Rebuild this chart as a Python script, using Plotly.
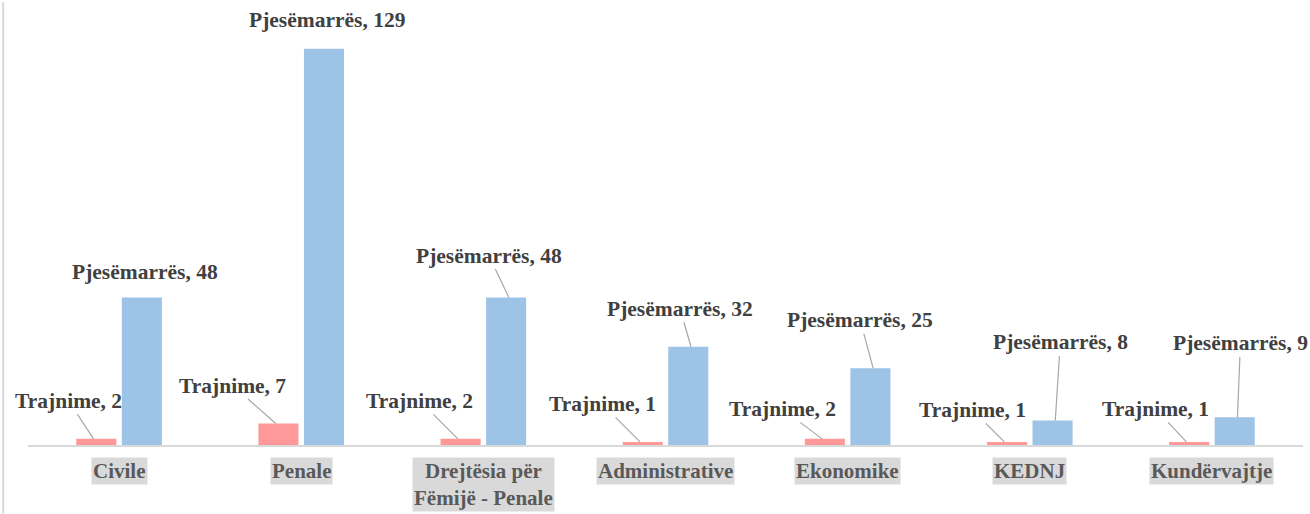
import plotly.graph_objects as go

categories = ["Civile", "Penale", "Drejtësia për<br>Fëmijë - Penale", "Administrative",
              "Ekonomike", "KEDNJ", "Kundërvajtje"]
series_names = ["Trajnime", "Pjesëmarrës"]
trajnime = [2, 7, 2, 1, 2, 1, 1]
pjesemarres = [48, 129, 48, 32, 25, 8, 9]

# label offsets in pixels (text position relative to bar top)
traj_ax = [-25, -43, -38, -38, -40, -32, -31]
traj_ay = [-38, -38, -38, -38, -30, -32, -33]
traj_arrow = [True, True, True, True, True, True, True]
pj_ax = [0, 0, -20, -11, -13, 5, 3]
pj_ay = [-26, -29, -42, -38, -48, -78, -74]
pj_arrow = [False, False, True, True, True, True, True]

FONT = "Liberation Serif, Times New Roman, serif"
pink = "#FF9999"
blue = "#9DC3E6"
x = list(range(len(categories)))

fig = go.Figure()
fig.add_trace(go.Bar(x=x, y=trajnime, name=series_names[0], marker_color=pink,
                     marker_line_width=0))
fig.add_trace(go.Bar(x=x, y=pjesemarres, name=series_names[1], marker_color=blue,
                     marker_line_width=0))

off = 0.14
annotations = []
for i in x:
    for vals, axs, ays, arr, name, dx in [
        (trajnime, traj_ax, traj_ay, traj_arrow, series_names[0], -off),
        (pjesemarres, pj_ax, pj_ay, pj_arrow, series_names[1], off),
    ]:
        annotations.append(dict(
            x=i + dx, y=vals[i], xref="x", yref="y",
            text=f"<b>{name}, {vals[i]}</b>",
            showarrow=True, arrowhead=0, arrowwidth=1.2,
            arrowcolor="#A6A6A6" if arr[i] else "rgba(0,0,0,0)",
            ax=axs[i], ay=ays[i], standoff=0,
            font=dict(family=FONT, size=21.5, color="#404040"),
        ))
    annotations.append(dict(
        x=i, y=0, xref="x", yref="y", yanchor="top", yshift=-12,
        text=f"<b>{categories[i]}</b>", showarrow=False,
        bgcolor="#D9D9D9", borderpad=1,
        font=dict(family=FONT, size=21, color="#595959"),
    ))

fig.update_layout(
    width=1310, height=514,
    margin=dict(l=28, r=7, t=15, b=69),
    paper_bgcolor="white", plot_bgcolor="white",
    barmode="group", bargap=0.5, bargroupgap=0.12,
    showlegend=False,
    annotations=annotations,
    xaxis=dict(range=[-0.5, 6.5], showticklabels=False, showgrid=False,
               zeroline=False, showline=True, linecolor="#D9D9D9", linewidth=2,
               ticks=""),
    yaxis=dict(range=[0, 140], visible=False),
    shapes=[dict(type="line", xref="paper", yref="paper", x0=-0.0195, x1=-0.0195,
                 y0=-0.16, y1=1.03, line=dict(color="#D9D9D9", width=2))],
)
fig.write_html("out.html", config={"displayModeBar": False},
               post_script="document.body.style.margin='0';document.body.style.overflow='hidden';")
